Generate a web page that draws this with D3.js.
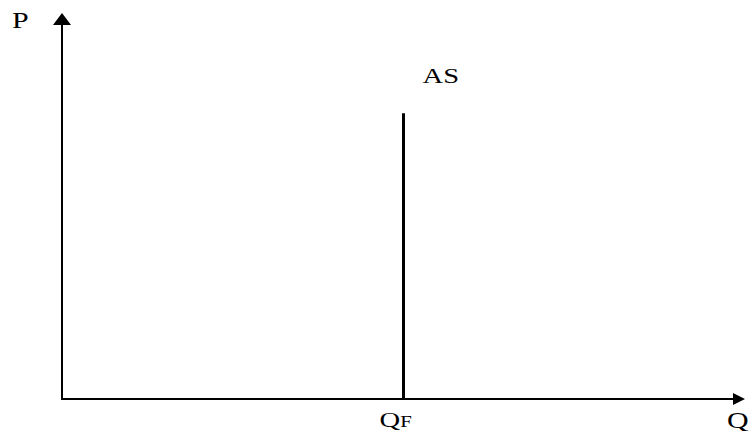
<!DOCTYPE html>
<html>
<head>
<meta charset="utf-8">
<script src="https://cdn.jsdelivr.net/npm/d3@7"></script>
<style>
  body { margin: 0; background: #fff; }
  text { font-family: "Liberation Serif", "Times New Roman", serif; fill: #000; }
</style>
</head>
<body>
<svg id="chart"></svg>
<script>
// values of the diagram
const qDomain = [0, 100];
const pDomain = [0, 100];
const qFull = 50;          // full-employment output
const asTop = 74;          // height where the AS line stops
const asPoints = [{q: qFull, p: 0}, {q: qFull, p: asTop}];
const axisNames = {x: "Q", y: "P"};

const width = 755, height = 431;
const margin = {top: 13, right: 10, bottom: 32, left: 62};

const svg = d3.select("#chart")
    .attr("width", width)
    .attr("height", height);

const x = d3.scaleLinear().domain(qDomain).range([margin.left, width - margin.right]);
const y = d3.scaleLinear().domain(pDomain).range([height - margin.bottom, margin.top]);

const x0 = x(qDomain[0]), y0 = y(pDomain[0]);
const head = 12;

// axes
svg.append("line")
    .attr("x1", x0).attr("y1", y0)
    .attr("x2", x0).attr("y2", y(pDomain[1]) + head)
    .attr("stroke", "#000").attr("stroke-width", 2);
svg.append("line")
    .attr("x1", x0 - 1).attr("y1", y0)
    .attr("x2", x(qDomain[1]) - head).attr("y2", y0)
    .attr("stroke", "#000").attr("stroke-width", 2);

// arrow heads
svg.append("path")
    .attr("d", `M${x0},${y(pDomain[1])} L${x0 - 9},${y(pDomain[1]) + head} L${x0 + 9},${y(pDomain[1]) + head} Z`)
    .attr("fill", "#000");
svg.append("path")
    .attr("d", `M${x(qDomain[1])},${y0} L${x(qDomain[1]) - head},${y0 - 6} L${x(qDomain[1]) - head},${y0 + 6} Z`)
    .attr("fill", "#000");

// AS curve (vertical)
svg.append("path")
    .datum(asPoints)
    .attr("d", d3.line().x(d => x(d.q)).y(d => y(d.p)))
    .attr("stroke", "#000").attr("stroke-width", 3).attr("fill", "none");

// labels (text in the picture is stretched horizontally)
function label(tx, ty, str, size) {
  return svg.append("text")
      .attr("transform", `translate(${tx},${ty}) scale(1.3,1)`)
      .attr("font-size", size)
      .text(str);
}
label(12, 28, axisNames.y, 23);
label(727, 428, axisNames.x, 23);
label(x(qFull) + 19, y(asTop) - 30, "AS", 22);

const qf = svg.append("text")
    .attr("transform", `translate(${x(qFull) - 24},427) scale(1.3,1)`)
    .attr("font-size", 22);
qf.append("tspan").text("Q");
qf.append("tspan").attr("font-size", 16).text("F");
</script>
</body>
</html>
